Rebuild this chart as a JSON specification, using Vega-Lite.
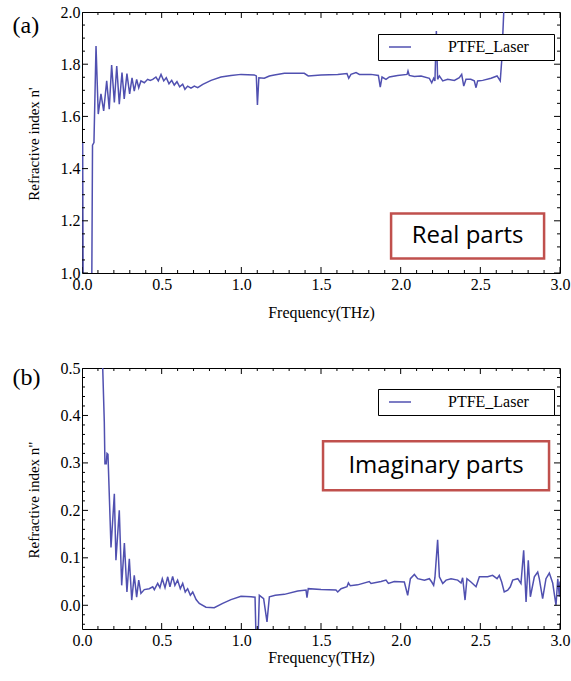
{
  "$schema": "https://vega.github.io/schema/vega-lite/v6.json",
  "padding": {"left": 11, "top": 3, "right": 5, "bottom": 5},
  "spacing": 38,
  "datasets": {
    "real": [
      {"f": 0.000, "n": 1.50}, {"f": 0.004, "n": 1.50}, {"f": 0.008, "n": 0.80}, {"f": 0.060, "n": 0.80},
      {"f": 0.066, "n": 1.49}, {"f": 0.075, "n": 1.50}, {"f": 0.088, "n": 1.870}, {"f": 0.102, "n": 1.609},
      {"f": 0.119, "n": 1.686}, {"f": 0.136, "n": 1.621}, {"f": 0.155, "n": 1.736}, {"f": 0.171, "n": 1.628},
      {"f": 0.186, "n": 1.797}, {"f": 0.203, "n": 1.653}, {"f": 0.218, "n": 1.793}, {"f": 0.234, "n": 1.647},
      {"f": 0.251, "n": 1.768}, {"f": 0.265, "n": 1.667}, {"f": 0.282, "n": 1.764}, {"f": 0.299, "n": 1.686},
      {"f": 0.314, "n": 1.748}, {"f": 0.328, "n": 1.697}, {"f": 0.343, "n": 1.742}, {"f": 0.356, "n": 1.710},
      {"f": 0.370, "n": 1.736}, {"f": 0.391, "n": 1.729}, {"f": 0.412, "n": 1.742}, {"f": 0.428, "n": 1.738},
      {"f": 0.444, "n": 1.742}, {"f": 0.464, "n": 1.751}, {"f": 0.479, "n": 1.736}, {"f": 0.496, "n": 1.761},
      {"f": 0.513, "n": 1.736}, {"f": 0.529, "n": 1.748}, {"f": 0.546, "n": 1.725}, {"f": 0.563, "n": 1.738},
      {"f": 0.579, "n": 1.720}, {"f": 0.596, "n": 1.733}, {"f": 0.613, "n": 1.713}, {"f": 0.632, "n": 1.723},
      {"f": 0.646, "n": 1.704}, {"f": 0.663, "n": 1.716}, {"f": 0.684, "n": 1.708}, {"f": 0.705, "n": 1.716},
      {"f": 0.726, "n": 1.710}, {"f": 0.758, "n": 1.723}, {"f": 0.810, "n": 1.738}, {"f": 0.872, "n": 1.751},
      {"f": 0.935, "n": 1.757}, {"f": 0.998, "n": 1.761}, {"f": 1.081, "n": 1.759}, {"f": 1.094, "n": 1.755},
      {"f": 1.101, "n": 1.644}, {"f": 1.110, "n": 1.748}, {"f": 1.144, "n": 1.746}, {"f": 1.176, "n": 1.755},
      {"f": 1.207, "n": 1.759}, {"f": 1.270, "n": 1.765}, {"f": 1.395, "n": 1.765}, {"f": 1.420, "n": 1.755},
      {"f": 1.500, "n": 1.759}, {"f": 1.605, "n": 1.761}, {"f": 1.663, "n": 1.764}, {"f": 1.674, "n": 1.746},
      {"f": 1.688, "n": 1.761}, {"f": 1.720, "n": 1.768}, {"f": 1.741, "n": 1.761}, {"f": 1.814, "n": 1.761},
      {"f": 1.860, "n": 1.757}, {"f": 1.872, "n": 1.712}, {"f": 1.883, "n": 1.751}, {"f": 1.908, "n": 1.742},
      {"f": 1.929, "n": 1.751}, {"f": 1.981, "n": 1.757}, {"f": 2.040, "n": 1.761}, {"f": 2.046, "n": 1.774},
      {"f": 2.054, "n": 1.757}, {"f": 2.086, "n": 1.753}, {"f": 2.128, "n": 1.755}, {"f": 2.180, "n": 1.746},
      {"f": 2.195, "n": 1.729}, {"f": 2.207, "n": 1.746}, {"f": 2.215, "n": 1.736}, {"f": 2.224, "n": 1.927},
      {"f": 2.232, "n": 1.742}, {"f": 2.243, "n": 1.755}, {"f": 2.264, "n": 1.736}, {"f": 2.295, "n": 1.742},
      {"f": 2.337, "n": 1.738}, {"f": 2.368, "n": 1.748}, {"f": 2.383, "n": 1.761}, {"f": 2.396, "n": 1.716},
      {"f": 2.410, "n": 1.742}, {"f": 2.440, "n": 1.742}, {"f": 2.462, "n": 1.736}, {"f": 2.473, "n": 1.710},
      {"f": 2.483, "n": 1.736}, {"f": 2.515, "n": 1.738}, {"f": 2.567, "n": 1.746}, {"f": 2.605, "n": 1.755},
      {"f": 2.625, "n": 1.736}, {"f": 2.634, "n": 1.812}, {"f": 2.647, "n": 2.0}, {"f": 2.655, "n": 2.2}
    ],
    "imag": [
      {"f": 0.125, "n": 0.60}, {"f": 0.130, "n": 0.50}, {"f": 0.140, "n": 0.385}, {"f": 0.144, "n": 0.298},
      {"f": 0.152, "n": 0.298}, {"f": 0.157, "n": 0.320}, {"f": 0.163, "n": 0.318}, {"f": 0.182, "n": 0.122},
      {"f": 0.203, "n": 0.235}, {"f": 0.213, "n": 0.095}, {"f": 0.234, "n": 0.200}, {"f": 0.249, "n": 0.042},
      {"f": 0.266, "n": 0.131}, {"f": 0.282, "n": 0.028}, {"f": 0.297, "n": 0.098}, {"f": 0.312, "n": 0.011},
      {"f": 0.328, "n": 0.063}, {"f": 0.343, "n": 0.017}, {"f": 0.356, "n": 0.053}, {"f": 0.370, "n": 0.025},
      {"f": 0.391, "n": 0.033}, {"f": 0.422, "n": 0.035}, {"f": 0.444, "n": 0.039}, {"f": 0.454, "n": 0.033},
      {"f": 0.475, "n": 0.046}, {"f": 0.489, "n": 0.037}, {"f": 0.504, "n": 0.056}, {"f": 0.521, "n": 0.037},
      {"f": 0.538, "n": 0.060}, {"f": 0.552, "n": 0.039}, {"f": 0.569, "n": 0.061}, {"f": 0.583, "n": 0.042},
      {"f": 0.600, "n": 0.053}, {"f": 0.617, "n": 0.035}, {"f": 0.632, "n": 0.046}, {"f": 0.648, "n": 0.028},
      {"f": 0.663, "n": 0.035}, {"f": 0.680, "n": 0.021}, {"f": 0.695, "n": 0.028}, {"f": 0.716, "n": 0.012},
      {"f": 0.736, "n": 0.004}, {"f": 0.778, "n": -0.004}, {"f": 0.830, "n": -0.005}, {"f": 0.883, "n": 0.004},
      {"f": 0.935, "n": 0.012}, {"f": 0.998, "n": 0.019}, {"f": 1.061, "n": 0.018}, {"f": 1.086, "n": 0.017},
      {"f": 1.093, "n": -0.08}, {"f": 1.104, "n": -0.08}, {"f": 1.113, "n": 0.021}, {"f": 1.140, "n": 0.014},
      {"f": 1.161, "n": -0.035}, {"f": 1.176, "n": 0.018}, {"f": 1.213, "n": 0.021}, {"f": 1.270, "n": 0.023},
      {"f": 1.354, "n": 0.030}, {"f": 1.406, "n": 0.032}, {"f": 1.412, "n": 0.016}, {"f": 1.420, "n": 0.035},
      {"f": 1.500, "n": 0.033}, {"f": 1.594, "n": 0.032}, {"f": 1.605, "n": 0.028}, {"f": 1.626, "n": 0.035},
      {"f": 1.663, "n": 0.039}, {"f": 1.672, "n": 0.047}, {"f": 1.684, "n": 0.041}, {"f": 1.730, "n": 0.043},
      {"f": 1.803, "n": 0.050}, {"f": 1.814, "n": 0.046}, {"f": 1.877, "n": 0.050}, {"f": 1.908, "n": 0.053},
      {"f": 1.923, "n": 0.046}, {"f": 1.960, "n": 0.050}, {"f": 2.023, "n": 0.049}, {"f": 2.044, "n": 0.021},
      {"f": 2.061, "n": 0.056}, {"f": 2.086, "n": 0.065}, {"f": 2.107, "n": 0.056}, {"f": 2.149, "n": 0.053},
      {"f": 2.180, "n": 0.056}, {"f": 2.195, "n": 0.049}, {"f": 2.207, "n": 0.042}, {"f": 2.215, "n": 0.058},
      {"f": 2.232, "n": 0.138}, {"f": 2.243, "n": 0.060}, {"f": 2.264, "n": 0.046}, {"f": 2.285, "n": 0.053},
      {"f": 2.316, "n": 0.056}, {"f": 2.358, "n": 0.053}, {"f": 2.379, "n": 0.047}, {"f": 2.389, "n": 0.058},
      {"f": 2.404, "n": 0.011}, {"f": 2.416, "n": 0.056}, {"f": 2.441, "n": 0.049}, {"f": 2.473, "n": 0.039},
      {"f": 2.494, "n": 0.060}, {"f": 2.546, "n": 0.060}, {"f": 2.577, "n": 0.063}, {"f": 2.605, "n": 0.056},
      {"f": 2.619, "n": 0.063}, {"f": 2.634, "n": 0.049}, {"f": 2.650, "n": 0.028}, {"f": 2.672, "n": 0.032},
      {"f": 2.688, "n": 0.039}, {"f": 2.703, "n": 0.053}, {"f": 2.735, "n": 0.056}, {"f": 2.755, "n": 0.046},
      {"f": 2.772, "n": 0.116}, {"f": 2.787, "n": 0.007}, {"f": 2.801, "n": 0.095}, {"f": 2.814, "n": 0.018},
      {"f": 2.839, "n": 0.060}, {"f": 2.860, "n": 0.070}, {"f": 2.870, "n": 0.056}, {"f": 2.891, "n": 0.014},
      {"f": 2.912, "n": 0.056}, {"f": 2.933, "n": 0.068}, {"f": 2.954, "n": 0.047}, {"f": 2.975, "n": 0.000},
      {"f": 2.986, "n": 0.056}, {"f": 2.996, "n": 0.018}, {"f": 3.000, "n": 0.050}
    ],
    "xt": [
      {"v": 0.0, "s": "major"}, {"v": 0.1, "s": "minor"}, {"v": 0.2, "s": "minor"}, {"v": 0.3, "s": "minor"}, {"v": 0.4, "s": "minor"},
      {"v": 0.5, "s": "major"}, {"v": 0.6, "s": "minor"}, {"v": 0.7, "s": "minor"}, {"v": 0.8, "s": "minor"}, {"v": 0.9, "s": "minor"},
      {"v": 1.0, "s": "major"}, {"v": 1.1, "s": "minor"}, {"v": 1.2, "s": "minor"}, {"v": 1.3, "s": "minor"}, {"v": 1.4, "s": "minor"},
      {"v": 1.5, "s": "major"}, {"v": 1.6, "s": "minor"}, {"v": 1.7, "s": "minor"}, {"v": 1.8, "s": "minor"}, {"v": 1.9, "s": "minor"},
      {"v": 2.0, "s": "major"}, {"v": 2.1, "s": "minor"}, {"v": 2.2, "s": "minor"}, {"v": 2.3, "s": "minor"}, {"v": 2.4, "s": "minor"},
      {"v": 2.5, "s": "major"}, {"v": 2.6, "s": "minor"}, {"v": 2.7, "s": "minor"}, {"v": 2.8, "s": "minor"}, {"v": 2.9, "s": "minor"},
      {"v": 3.0, "s": "major"}
    ],
    "yta": [
      {"v": 1.0, "s": "major"}, {"v": 1.05, "s": "minor"}, {"v": 1.1, "s": "minor"}, {"v": 1.15, "s": "minor"},
      {"v": 1.2, "s": "major"}, {"v": 1.25, "s": "minor"}, {"v": 1.3, "s": "minor"}, {"v": 1.35, "s": "minor"},
      {"v": 1.4, "s": "major"}, {"v": 1.45, "s": "minor"}, {"v": 1.5, "s": "minor"}, {"v": 1.55, "s": "minor"},
      {"v": 1.6, "s": "major"}, {"v": 1.65, "s": "minor"}, {"v": 1.7, "s": "minor"}, {"v": 1.75, "s": "minor"},
      {"v": 1.8, "s": "major"}, {"v": 1.85, "s": "minor"}, {"v": 1.9, "s": "minor"}, {"v": 1.95, "s": "minor"},
      {"v": 2.0, "s": "major"}
    ],
    "ytb": [
      {"v": -0.04, "s": "minor"}, {"v": -0.02, "s": "minor"}, {"v": 0.0, "s": "major"}, {"v": 0.02, "s": "minor"},
      {"v": 0.04, "s": "minor"}, {"v": 0.06, "s": "minor"}, {"v": 0.08, "s": "minor"}, {"v": 0.1, "s": "major"},
      {"v": 0.12, "s": "minor"}, {"v": 0.14, "s": "minor"}, {"v": 0.16, "s": "minor"}, {"v": 0.18, "s": "minor"},
      {"v": 0.2, "s": "major"}, {"v": 0.22, "s": "minor"}, {"v": 0.24, "s": "minor"}, {"v": 0.26, "s": "minor"},
      {"v": 0.28, "s": "minor"}, {"v": 0.3, "s": "major"}, {"v": 0.32, "s": "minor"}, {"v": 0.34, "s": "minor"},
      {"v": 0.36, "s": "minor"}, {"v": 0.38, "s": "minor"}, {"v": 0.4, "s": "major"}, {"v": 0.42, "s": "minor"},
      {"v": 0.44, "s": "minor"}, {"v": 0.46, "s": "minor"}, {"v": 0.48, "s": "minor"}, {"v": 0.5, "s": "major"}
    ]
  },
  "config": {
    "font": "'Liberation Serif', 'Times New Roman', 'DejaVu Serif', serif",
    "view": {"stroke": "black", "strokeWidth": 1},
    "tick": {"thickness": 1, "color": "black", "opacity": 1},
    "axis": {
      "domain": false, "grid": false, "ticks": false,
      "labelColor": "black", "labelFont": "'Liberation Serif', 'Times New Roman', 'DejaVu Serif', serif", "labelFontSize": 16,
      "titleFont": "'Liberation Serif', 'Times New Roman', 'DejaVu Serif', serif", "titleFontWeight": "normal", "titleColor": "black"
    }
  },
  "resolve": {"scale": {"stroke": "independent"}, "legend": {"stroke": "independent"}},
  "vconcat": [
    {
      "width": 478, "height": 261,
      "resolve": {"axis": {"x": "independent", "y": "independent"}},
      "layer": [
        {
          "data": {"name": "real"},
          "mark": {"type": "line", "clip": true, "strokeWidth": 1.5},
          "encoding": {
            "x": {"field": "f", "type": "quantitative", "scale": {"domain": [0, 3], "nice": false, "zero": false},
              "axis": {"orient": "bottom", "values": [0, 0.5, 1, 1.5, 2, 2.5, 3], "format": ".1f", "labelPadding": 3, "labelFlush": false, "labelOverlap": false,
                "title": "Frequency(THz)", "titleFontSize": 16, "titleX": 239, "titleY": 44, "titleAlign": "center", "titleBaseline": "alphabetic"}},
            "y": {"field": "n", "type": "quantitative", "scale": {"domain": [1, 2], "nice": false, "zero": false},
              "axis": {"orient": "left", "values": [1, 1.2, 1.4, 1.6, 1.8, 2], "format": ".1f", "labelPadding": 2, "labelFlush": false, "labelOverlap": false,
                "title": "Refractive index n'", "titleFontSize": 15, "titleX": -44, "titleY": 131.5, "titleAngle": -90, "titleAlign": "center", "titleBaseline": "alphabetic"}},
            "stroke": {"datum": "PTFE_Laser", "type": "nominal", "scale": {"range": ["#5050b0"]},
              "legend": {"orient": "none", "legendX": 296, "legendY": 22, "title": "\u00a0", "titleOrient": "right", "titleFontSize": 1, "titlePadding": 20,
                "strokeColor": "black", "fillColor": "white", "padding": 5, "clipHeight": 16,
                "symbolType": "stroke", "symbolSize": 484, "symbolStrokeWidth": 1.5, "symbolOffset": 5, "labelOffset": 36,
                "labelFont": "'Liberation Serif', 'Times New Roman', 'DejaVu Serif', serif", "labelFontSize": 16, "labelColor": "black"}}
          }
        },
        {
          "data": {"name": "xt"},
          "mark": {"type": "tick", "orient": "vertical", "clip": true},
          "encoding": {
            "x": {"field": "v", "type": "quantitative", "scale": {"domain": [0, 3], "nice": false, "zero": false}, "axis": null},
            "y": {"datum": 1, "type": "quantitative", "scale": {"domain": [1, 2], "nice": false, "zero": false}, "axis": null},
            "size": {"field": "s", "type": "ordinal", "scale": {"domain": ["major", "minor"], "range": [12, 6]}, "legend": null}
          }
        },
        {
          "data": {"name": "xt"},
          "mark": {"type": "tick", "orient": "vertical", "clip": true},
          "encoding": {
            "x": {"field": "v", "type": "quantitative", "scale": {"domain": [0, 3], "nice": false, "zero": false},
              "axis": {"orient": "top", "labels": false, "ticks": false, "domain": false, "values": [0],
                "title": "(a)", "titleFontSize": 24, "titleX": -70, "titleY": 20, "titleAlign": "left", "titleBaseline": "alphabetic", "titleAngle": 0}},
            "y": {"datum": 2, "type": "quantitative", "scale": {"domain": [1, 2], "nice": false, "zero": false}, "axis": null},
            "size": {"field": "s", "type": "ordinal", "scale": {"domain": ["major", "minor"], "range": [12, 6]}, "legend": null}
          }
        },
        {
          "data": {"name": "yta"},
          "mark": {"type": "tick", "orient": "horizontal", "clip": true},
          "encoding": {
            "y": {"field": "v", "type": "quantitative", "scale": {"domain": [1, 2], "nice": false, "zero": false}, "axis": null},
            "x": {"datum": 0, "type": "quantitative", "scale": {"domain": [0, 3], "nice": false, "zero": false}, "axis": null},
            "size": {"field": "s", "type": "ordinal", "scale": {"domain": ["major", "minor"], "range": [12, 6]}, "legend": null}
          }
        },
        {
          "data": {"name": "yta"},
          "mark": {"type": "tick", "orient": "horizontal", "clip": true},
          "encoding": {
            "y": {"field": "v", "type": "quantitative", "scale": {"domain": [1, 2], "nice": false, "zero": false}, "axis": null},
            "x": {"datum": 3, "type": "quantitative", "scale": {"domain": [0, 3], "nice": false, "zero": false}, "axis": null},
            "size": {"field": "s", "type": "ordinal", "scale": {"domain": ["major", "minor"], "range": [12, 6]}, "legend": null}
          }
        },
        {
          "data": {"values": [{"label": "Real parts", "f": 2.42, "n": 1.142}]},
          "layer": [
            {
              "mark": {"type": "rect", "width": 153, "height": 45, "fill": "white", "stroke": "#c0504d", "strokeWidth": 2.5},
              "encoding": {
                "x": {"field": "f", "type": "quantitative", "scale": {"domain": [0, 3], "nice": false, "zero": false}, "axis": null},
                "y": {"field": "n", "type": "quantitative", "scale": {"domain": [1, 2], "nice": false, "zero": false}, "axis": null}
              }
            },
            {
              "mark": {"type": "text", "font": "Open Sans", "fontSize": 24, "color": "black"},
              "encoding": {
                "x": {"field": "f", "type": "quantitative", "axis": null},
                "y": {"field": "n", "type": "quantitative", "axis": null},
                "text": {"field": "label"}
              }
            }
          ]
        }
      ]
    },
    {
      "width": 478, "height": 261,
      "resolve": {"axis": {"x": "independent", "y": "independent"}},
      "layer": [
        {
          "data": {"name": "imag"},
          "mark": {"type": "line", "clip": true, "strokeWidth": 1.5},
          "encoding": {
            "x": {"field": "f", "type": "quantitative", "scale": {"domain": [0, 3], "nice": false, "zero": false},
              "axis": {"orient": "bottom", "values": [0, 0.5, 1, 1.5, 2, 2.5, 3], "format": ".1f", "labelPadding": 3, "labelFlush": false, "labelOverlap": false,
                "title": "Frequency(THz)", "titleFontSize": 16, "titleX": 239, "titleY": 33, "titleAlign": "center", "titleBaseline": "alphabetic"}},
            "y": {"field": "n", "type": "quantitative", "scale": {"domain": [-0.05, 0.5], "nice": false, "zero": false},
              "axis": {"orient": "left", "values": [0, 0.1, 0.2, 0.3, 0.4, 0.5], "format": ".1f", "labelPadding": 2, "labelFlush": false, "labelOverlap": false,
                "title": "Refractive index n\"", "titleFontSize": 15, "titleX": -44, "titleY": 131.5, "titleAngle": -90, "titleAlign": "center", "titleBaseline": "alphabetic"}},
            "stroke": {"datum": "PTFE_Laser", "type": "nominal", "scale": {"range": ["#5050b0"]},
              "legend": {"orient": "none", "legendX": 296, "legendY": 21, "title": "\u00a0", "titleOrient": "right", "titleFontSize": 1, "titlePadding": 20,
                "strokeColor": "black", "fillColor": "white", "padding": 5, "clipHeight": 16,
                "symbolType": "stroke", "symbolSize": 484, "symbolStrokeWidth": 1.5, "symbolOffset": 5, "labelOffset": 36,
                "labelFont": "'Liberation Serif', 'Times New Roman', 'DejaVu Serif', serif", "labelFontSize": 16, "labelColor": "black"}}
          }
        },
        {
          "data": {"name": "xt"},
          "mark": {"type": "tick", "orient": "vertical", "clip": true},
          "encoding": {
            "x": {"field": "v", "type": "quantitative", "scale": {"domain": [0, 3], "nice": false, "zero": false}, "axis": null},
            "y": {"datum": -0.05, "type": "quantitative", "scale": {"domain": [-0.05, 0.5], "nice": false, "zero": false}, "axis": null},
            "size": {"field": "s", "type": "ordinal", "scale": {"domain": ["major", "minor"], "range": [12, 6]}, "legend": null}
          }
        },
        {
          "data": {"name": "xt"},
          "mark": {"type": "tick", "orient": "vertical", "clip": true},
          "encoding": {
            "x": {"field": "v", "type": "quantitative", "scale": {"domain": [0, 3], "nice": false, "zero": false},
              "axis": {"orient": "top", "labels": false, "ticks": false, "domain": false, "values": [0],
                "title": "(b)", "titleFontSize": 24, "titleX": -70, "titleY": 16, "titleAlign": "left", "titleBaseline": "alphabetic", "titleAngle": 0}},
            "y": {"datum": 0.5, "type": "quantitative", "scale": {"domain": [-0.05, 0.5], "nice": false, "zero": false}, "axis": null},
            "size": {"field": "s", "type": "ordinal", "scale": {"domain": ["major", "minor"], "range": [12, 6]}, "legend": null}
          }
        },
        {
          "data": {"name": "ytb"},
          "mark": {"type": "tick", "orient": "horizontal", "clip": true},
          "encoding": {
            "y": {"field": "v", "type": "quantitative", "scale": {"domain": [-0.05, 0.5], "nice": false, "zero": false}, "axis": null},
            "x": {"datum": 0, "type": "quantitative", "scale": {"domain": [0, 3], "nice": false, "zero": false}, "axis": null},
            "size": {"field": "s", "type": "ordinal", "scale": {"domain": ["major", "minor"], "range": [12, 6]}, "legend": null}
          }
        },
        {
          "data": {"name": "ytb"},
          "mark": {"type": "tick", "orient": "horizontal", "clip": true},
          "encoding": {
            "y": {"field": "v", "type": "quantitative", "scale": {"domain": [-0.05, 0.5], "nice": false, "zero": false}, "axis": null},
            "x": {"datum": 3, "type": "quantitative", "scale": {"domain": [0, 3], "nice": false, "zero": false}, "axis": null},
            "size": {"field": "s", "type": "ordinal", "scale": {"domain": ["major", "minor"], "range": [12, 6]}, "legend": null}
          }
        },
        {
          "data": {"values": [{"label": "Imaginary parts", "f": 2.222, "n": 0.294}]},
          "layer": [
            {
              "mark": {"type": "rect", "width": 226, "height": 49, "fill": "white", "stroke": "#c0504d", "strokeWidth": 2.5},
              "encoding": {
                "x": {"field": "f", "type": "quantitative", "scale": {"domain": [0, 3], "nice": false, "zero": false}, "axis": null},
                "y": {"field": "n", "type": "quantitative", "scale": {"domain": [-0.05, 0.5], "nice": false, "zero": false}, "axis": null}
              }
            },
            {
              "mark": {"type": "text", "font": "Open Sans", "fontSize": 24, "color": "black"},
              "encoding": {
                "x": {"field": "f", "type": "quantitative", "axis": null},
                "y": {"field": "n", "type": "quantitative", "axis": null},
                "text": {"field": "label"}
              }
            }
          ]
        }
      ]
    }
  ]
}
